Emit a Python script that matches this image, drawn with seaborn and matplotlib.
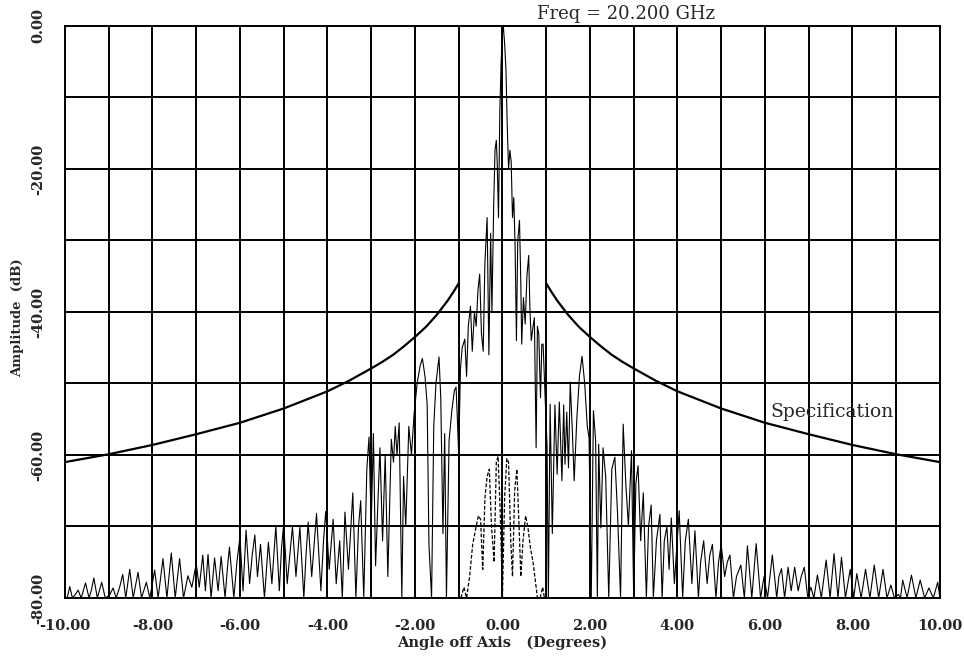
import seaborn as sns
import matplotlib.pyplot as plt
from matplotlib.ticker import MultipleLocator, FormatStrFormatter

far_left_deg = [-10.0, -9.95, -9.89, -9.83, -9.76, -9.7, -9.63, -9.53, -9.45, -9.4, -9.34, -9.26,
                -9.16, -9.08, -8.98, -8.9, -8.83, -8.75, -8.68, -8.61, -8.52, -8.44, -8.38, -8.33,
                -8.25, -8.14, -8.06, -7.95, -7.87, -7.76, -7.67, -7.57, -7.48, -7.38, -7.29, -7.19,
                -7.1, -7.0, -6.93, -6.85, -6.79, -6.73, -6.66, -6.58, -6.5, -6.43, -6.34, -6.29,
                -6.24, -6.14, -6.07, -6.0, -5.93, -5.86, -5.78, -5.72, -5.66, -5.6, -5.53, -5.44,
                -5.35, -5.27, -5.18, -5.1, -5.05, -5.0, -4.92, -4.86, -4.8, -4.72, -4.63, -4.54,
                -4.49, -4.44, -4.36, -4.25, -4.15, -4.09, -4.04, -3.96, -3.87, -3.8, -3.72, -3.66,
                -3.6, -3.52, -3.42, -3.35, -3.29, -3.24, -3.17]
far_left_db = [-80, -80, -78.4, -80, -79.5, -78.9, -80, -77.9, -80, -79, -77.2, -80,
               -77.8, -80, -79.6, -78.6, -80, -78.5, -76.7, -80, -76.0, -80, -78, -76.4,
               -80, -77.8, -80, -76.1, -80, -74.5, -80, -73.7, -80, -74.5, -80, -76.9,
               -78.5, -75.2, -78.5, -74.0, -79, -73.9, -80, -74.4, -79, -74.2, -80, -76,
               -72.9, -80, -75, -71.5, -79, -70.5, -78, -74, -71.2, -77, -72.5, -80,
               -72.2, -78, -69.9, -79, -73, -69.6, -78, -74, -70.0, -77, -70.1, -80,
               -74, -69.4, -77, -68.2, -79, -72, -67.9, -76, -69.0, -78, -72, -80,
               -68.0, -76, -65.3, -80, -70, -66.4, -80]

center_deg = [-3.1, -3.05, -3.0, -2.95, -2.9, -2.8, -2.74, -2.68, -2.62, -2.54, -2.49, -2.45,
              -2.41, -2.36, -2.3, -2.26, -2.21, -2.14, -2.08, -2.02, -1.95, -1.88, -1.83, -1.77,
              -1.72, -1.68, -1.62, -1.57, -1.52, -1.45, -1.41, -1.36, -1.32, -1.28, -1.22, -1.16,
              -1.1, -1.06, -1.03,
              -1.0, -0.96, -0.92, -0.86, -0.82, -0.78, -0.73, -0.69, -0.64, -0.6, -0.56, -0.52,
              -0.48, -0.44, -0.4, -0.35, -0.31, -0.27, -0.24, -0.2, -0.17, -0.14, -0.12, -0.09,
              -0.06, -0.03, 0.0, 0.02, 0.05, 0.08, 0.11, 0.14, 0.17, 0.2, 0.23, 0.26,
              0.29, 0.32, 0.35, 0.39, 0.42, 0.44, 0.48, 0.52, 0.56, 0.6, 0.63, 0.66,
              0.7, 0.73, 0.77, 0.8, 0.83, 0.87, 0.9, 0.93, 0.97, 1.02,
              1.05, 1.09, 1.14, 1.2, 1.25, 1.3, 1.36, 1.4, 1.43, 1.47, 1.51,
              1.55, 1.6, 1.64, 1.7, 1.76, 1.82, 1.88, 1.94, 1.98, 2.03, 2.08, 2.13,
              2.17, 2.2, 2.25, 2.3, 2.36, 2.43, 2.5, 2.57, 2.63, 2.7, 2.76, 2.82,
              2.88, 2.95, 3.0, 3.05, 3.1]
center_db = [-62, -57.5, -70, -57.0, -75.5, -59.0, -72, -60.0, -77, -57.8, -61, -56.0,
             -60, -55.5, -80, -63, -70, -56, -60, -54.3, -50, -47.5, -46.5, -49,
             -53, -72.5, -80, -56, -50, -46.3, -52, -71, -57, -80, -58, -54,
             -51, -50.5, -55,
             -60, -48, -45, -43.8, -49, -42, -39.2, -45.5, -40, -42, -37, -34.7,
             -43, -45.5, -33, -26.8, -46, -29, -40, -25, -17.4, -16, -19, -26.8,
             -12, -5, -1.0, 0, -2.5, -6, -14, -20, -17.4, -19, -26.8, -24,
             -31, -44, -30, -27.2, -36, -44.5, -38, -41.7, -35, -32.1, -40, -44,
             -42, -40.8, -59, -42, -43.1, -52, -44.5, -44.5, -51, -58.7,
             -80, -52.9, -71, -53, -62.7, -52.6, -63.6, -53, -61.3, -54, -61.8,
             -49.8, -57, -63.6, -55, -49, -46.2, -50, -56, -57.6, -80, -53.8, -58,
             -80, -58.5, -70.2, -59.0, -63, -80, -62, -60.3, -68, -80, -55.7, -64,
             -70, -59.4, -80, -64, -61.5]

far_right_deg = [3.16, 3.22, 3.29, 3.34, 3.4, 3.45, 3.52, 3.6, 3.65, 3.7, 3.76, 3.81,
                 3.86, 3.93, 4.04, 4.12, 4.18, 4.25, 4.33, 4.4, 4.48, 4.53, 4.6, 4.68,
                 4.74, 4.8, 4.88, 4.94, 5.0, 5.08, 5.14, 5.2, 5.28, 5.35, 5.45, 5.53,
                 5.6, 5.7, 5.8, 5.9, 5.98, 6.06, 6.17, 6.27, 6.32, 6.38, 6.45, 6.53,
                 6.6, 6.68, 6.76, 6.83, 6.9, 6.98, 7.05, 7.12, 7.2, 7.29, 7.4, 7.49,
                 7.58, 7.67, 7.75, 7.84, 7.95, 8.03, 8.1, 8.2, 8.3, 8.4, 8.5, 8.6,
                 8.7, 8.79, 8.88, 8.96, 9.05, 9.1, 9.15, 9.25, 9.35, 9.45, 9.55, 9.65,
                 9.75, 9.85, 9.95, 10.0]
far_right_db = [-72, -65.3, -80, -70, -67.0, -80, -72, -68.3, -80, -72, -70, -76,
                -68.8, -78, -67.8, -80, -72, -69.0, -78, -70.6, -80, -75, -72.0, -78,
                -74, -72.5, -80, -75, -72.5, -77, -75, -74.0, -80, -77, -75.4, -80,
                -72.7, -80, -72.4, -80, -77, -80, -74.0, -80, -77, -75.9, -80, -75.7,
                -79, -75.7, -79, -77, -75.7, -80, -78.5, -80, -76.8, -80, -74.7, -80,
                -73.8, -80, -74.3, -80, -76.0, -80, -76.6, -80, -76.0, -80, -75.4, -80,
                -76.0, -80, -78.2, -80, -79.5, -80, -77.5, -80, -76.8, -80, -77.5, -80,
                -78.6, -80, -77.8, -80]

# Cross-polar pattern (dashed), near boresight only
xpol_deg = [-0.95, -0.88, -0.82, -0.75, -0.68, -0.6, -0.55, -0.5, -0.45, -0.4, -0.35, -0.3,
            -0.25, -0.19, -0.14, -0.1, -0.05, 0.0, 0.05, 0.1, 0.14, 0.19, 0.23, 0.28,
            0.33, 0.38, 0.42, 0.47, 0.53, 0.58, 0.64, 0.7, 0.75, 0.8, 0.86, 0.92, 0.96]
xpol_db = [-80, -78.5, -80, -77, -72.5, -70, -68.5, -69, -76, -66, -63, -62,
           -70, -75, -61, -60.2, -68, -80, -66, -60.5, -61, -72, -77, -65,
           -62, -70, -77, -72, -68.5, -70, -73, -75, -77.5, -80, -80, -78.5, -80]

# Specification envelope (one side, mirrored)
spec_deg = [1.0, 1.1, 1.25, 1.5, 1.75, 2.0, 2.25, 2.5, 2.75, 3.0, 3.5, 4.0,
            4.5, 5.0, 5.5, 6.0, 7.0, 8.0, 9.0, 10.0]
spec_db = [-36.0, -37.0, -38.4, -40.4, -42.1, -43.5, -44.8, -46.0, -47.0, -47.9, -49.6, -51.1,
           -52.3, -53.5, -54.5, -55.5, -57.1, -58.6, -59.9, -61.0]

pattern_deg = far_left_deg + center_deg + far_right_deg
pattern_db = far_left_db + center_db + far_right_db

sns.set_style("white")
plt.rcParams['font.family'] = ['DejaVu Serif']

fig = plt.figure(figsize=(9.64, 6.6), dpi=100)
ax = fig.add_axes([0.0674, 0.094, 0.9076, 0.8667])

sns.lineplot(x=pattern_deg, y=pattern_db, sort=False, estimator=None,
             color='black', lw=0.8, ax=ax)
sns.lineplot(x=xpol_deg, y=xpol_db, sort=False, estimator=None,
             color='black', lw=0.9, linestyle=(0, (3, 1.5)), ax=ax)
sns.lineplot(x=spec_deg, y=spec_db, sort=False, estimator=None,
             color='black', lw=1.6, ax=ax)
sns.lineplot(x=[-d for d in spec_deg], y=spec_db, sort=False, estimator=None,
             color='black', lw=1.6, ax=ax)

ax.set_xlim(-10, 10)
ax.set_ylim(-80, 0)
ax.xaxis.set_major_locator(MultipleLocator(2))
ax.xaxis.set_minor_locator(MultipleLocator(1))
ax.yaxis.set_major_locator(MultipleLocator(20))
ax.yaxis.set_minor_locator(MultipleLocator(10))
ax.xaxis.set_major_formatter(FormatStrFormatter('%.2f'))
ax.yaxis.set_major_formatter(FormatStrFormatter('%.2f'))
ax.grid(which='both', color='black', lw=1.4)
ax.set_axisbelow(True)

for s in ax.spines.values():
    s.set_color('black')
    s.set_linewidth(1.4)

ax.tick_params(axis='x', which='major', direction='out', length=6, width=1.4, pad=9,
               labelsize=10.5)
ax.tick_params(axis='y', which='major', direction='out', length=12, width=1.4, pad=2,
               labelsize=10.5)
ax.tick_params(which='minor', length=0)
for lab in ax.get_xticklabels():
    lab.set_fontweight('bold')
for lab in ax.get_yticklabels():
    lab.set_fontweight('bold')
    lab.set_rotation(90)
    lab.set_va('center')

ax.set_xlabel('Angle off Axis   (Degrees)', fontsize=10.5, fontweight='bold', labelpad=2)
ax.set_ylabel('Amplitude  (dB)', fontsize=9.5, fontweight='bold')
ax.yaxis.set_label_coords(-0.047, 0.49)

ax.text(6.13, -54, 'Specification', fontsize=13.5, ha='left', va='center')
ax.text(0.54, 1.006, 'Freq = 20.200 GHz', transform=ax.transAxes, fontsize=13,
        ha='left', va='bottom')

fig.savefig('out.png', dpi=100)
